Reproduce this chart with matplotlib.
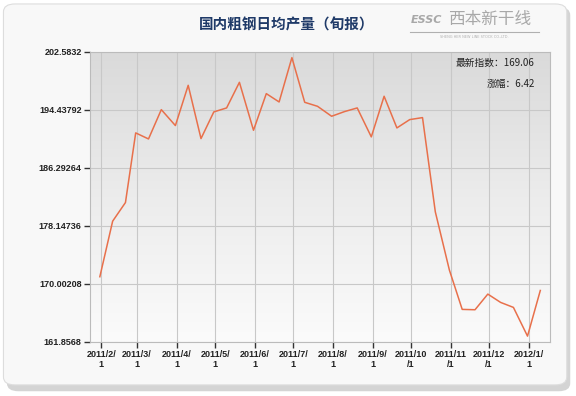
#!/usr/bin/env python3
"""Daily crude steel output (dekad report) chart."""
import matplotlib
matplotlib.use("Agg")

import matplotlib.pyplot as plt
import numpy as np
from datetime import datetime
from matplotlib.colors import LinearSegmentedColormap
from matplotlib.patches import FancyBboxPatch

CJK = ["Noto Sans CJK SC", "DejaVu Sans"]
LINE = "#E8704B"
GRID = "#C8C8C8"
NAVY = "#1F3A68"
TEXT = "#222222"

dates = [
    "2011-01-31", "2011-02-10", "2011-02-20", "2011-02-28",
    "2011-03-10", "2011-03-20", "2011-03-31",
    "2011-04-10", "2011-04-20", "2011-04-30",
    "2011-05-10", "2011-05-20", "2011-05-31",
    "2011-06-10", "2011-06-20", "2011-06-30",
    "2011-07-10", "2011-07-20", "2011-07-31",
    "2011-08-10", "2011-08-20", "2011-08-31",
    "2011-09-10", "2011-09-20", "2011-09-30",
    "2011-10-10", "2011-10-20", "2011-10-31",
    "2011-11-10", "2011-11-20", "2011-11-30",
    "2011-12-10", "2011-12-20", "2011-12-31",
    "2012-01-10",
]
output = [
    170.99, 178.80, 181.42, 191.21,
    190.36, 194.48, 192.24,
    197.90, 190.41, 194.16,
    194.72, 198.32, 191.58,
    196.73, 195.56, 201.79,
    195.51, 194.95, 193.55,
    194.20, 194.72, 190.65,
    196.36, 191.91, 193.08,
    193.36, 180.11, 171.92,
    166.40, 166.35, 168.55,
    167.38, 166.68, 162.64,
    169.06,
]
y_ticks = [161.8568, 170.00208, 178.14736, 186.29264, 194.43792, 202.5832]
y_labels = ["161.8568", "170.00208", "178.14736", "186.29264", "194.43792", "202.5832"]
x_ticks = ["2011-02-01", "2011-03-01", "2011-04-01", "2011-05-01", "2011-06-01",
           "2011-07-01", "2011-08-01", "2011-09-01", "2011-10-01", "2011-11-01",
           "2011-12-01", "2012-01-01"]
x_labels = ["2011/2/\n1", "2011/3/\n1", "2011/4/\n1", "2011/5/\n1", "2011/6/\n1",
            "2011/7/\n1", "2011/8/\n1", "2011/9/\n1", "2011/10\n/1", "2011/11\n/1",
            "2011/12\n/1", "2012/1/\n1"]
latest = "169.06"
change = "6.42"

x = [datetime.strptime(d, "%Y-%m-%d") for d in dates]
xt = [datetime.strptime(d, "%Y-%m-%d") for d in x_ticks]

fig = plt.figure(figsize=(5.76, 3.96), dpi=100)
fig.patch.set_facecolor("white")

# outer panel with a soft shadow, kept behind the axes
shadow = FancyBboxPatch((0.012, 0.012), 0.978, 0.97, boxstyle="round,pad=0,rounding_size=0.02",
                        transform=fig.transFigure, facecolor="#B8B8B8", edgecolor="none",
                        alpha=0.6, zorder=-3)
panel = FancyBboxPatch((0.006, 0.028), 0.978, 0.962, boxstyle="round,pad=0,rounding_size=0.02",
                       transform=fig.transFigure, facecolor="#F8F8F8", edgecolor="#DDDDDD",
                       linewidth=0.8, zorder=-2)
fig.patches.extend([shadow, panel])

ax = fig.add_axes([0.1563, 0.1371, 0.7986, 0.7316])
xlim = (datetime(2011, 1, 23, 8), datetime(2012, 1, 17, 14))
ax.set_xlim(*xlim)
ax.set_ylim(y_ticks[0], y_ticks[-1])

# vertical gradient background
grad = np.linspace(0, 1, 256).reshape(-1, 1)
bg = LinearSegmentedColormap.from_list("bg", ["#FBFBFB", "#ECECEC", "#DADADA"])
ax.imshow(grad, extent=[*ax.get_xlim(), *ax.get_ylim()], aspect="auto", origin="lower",
          cmap=bg, zorder=0)
ax.set_xlim(*xlim)

ax.plot(x, output, color=LINE, linewidth=1.1, zorder=3)

ax.set_yticks(y_ticks)
ax.set_yticklabels(y_labels)
ax.set_xticks(xt)
ax.set_xticklabels(x_labels, linespacing=1.1)
ax.grid(True, color=GRID, linewidth=0.8, zorder=1)
ax.set_axisbelow(True)
ax.tick_params(axis="both", direction="out", length=4, width=1, color="#333333",
               labelsize=6.5, labelcolor=TEXT, pad=2)
for lbl in ax.get_xticklabels() + ax.get_yticklabels():
    lbl.set_fontweight("bold")
    lbl.set_family("Liberation Sans")
for spine in ax.spines.values():
    spine.set_color("#BBBBBB")
    spine.set_linewidth(0.8)

ax.text(0.967, 0.961, f"最新指数：{latest}", transform=ax.transAxes, ha="right", va="center",
        fontsize=7, color=TEXT, family=CJK)
ax.text(0.967, 0.89, f"涨幅：{change}", transform=ax.transAxes, ha="right", va="center",
        fontsize=7, color=TEXT, family=CJK)

fig.text(0.498, 0.937, "国内粗钢日均产量（旬报）", ha="center", va="center", fontsize=10.5,
         color=NAVY, weight="bold", family=CJK)

# logo at top right
fig.text(0.74, 0.95, "ESSC", ha="center", va="center", fontsize=8, color="#A8A8A8",
         weight="bold", style="italic")
fig.text(0.85, 0.952, "西本新干线", ha="center", va="center", fontsize=12, color="#A8A8A8",
         style="italic", family=CJK)
fig.add_artist(plt.Line2D([0.712, 0.936], [0.92, 0.92], transform=fig.transFigure,
                          color="#B0B0B0", linewidth=0.8))
fig.text(0.824, 0.907, "SHENG HER NEW LINE STOCK CO.,LTD.", ha="center", va="center",
         fontsize=2.5, color="#B0B0B0")

fig.savefig("out.png", dpi=100)
